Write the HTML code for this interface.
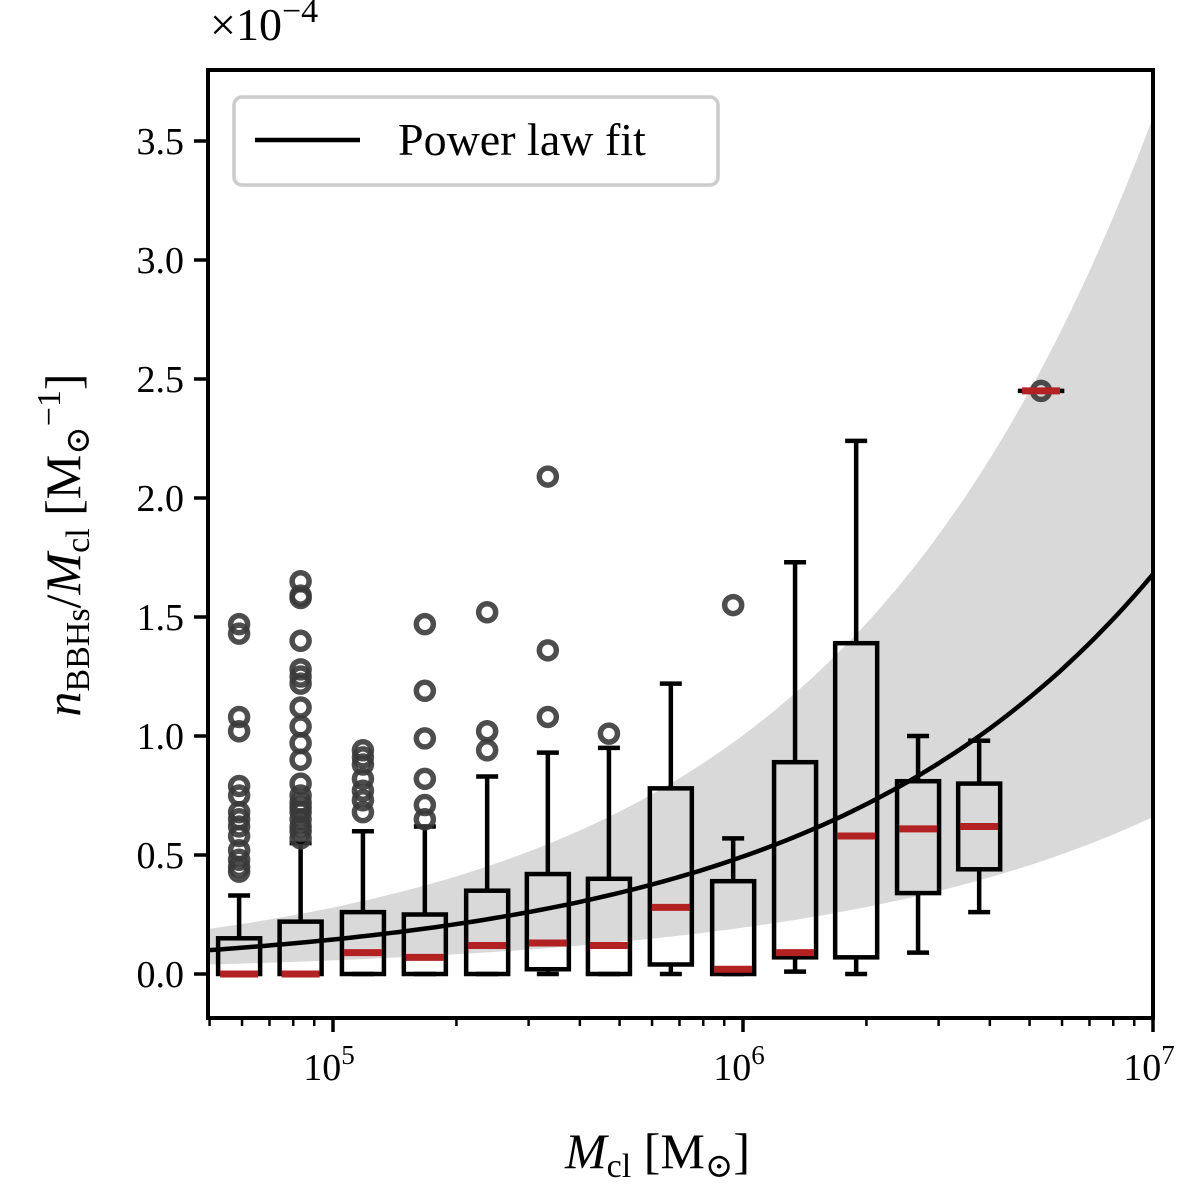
<!DOCTYPE html>
<html><head><meta charset="utf-8"><style>
html,body{margin:0;padding:0;background:#fff;}
svg text{font-family:"Liberation Serif","DejaVu Serif",serif;fill:#000;}
</style></head><body>
<svg id="chart" width="1200" height="1180" viewBox="0 0 1200 1180" xmlns="http://www.w3.org/2000/svg">
<g id="band"></g>
<g id="ticks"></g>
<g id="boxes"></g>
<g id="fit"></g>
<rect x="208" y="70" width="945" height="948" fill="none" stroke="#000" stroke-width="4"/>
<g>
<rect x="234" y="97" width="484" height="88" rx="8" fill="#fff" fill-opacity="0.8" stroke="#ccc" stroke-width="3.5"/>
<line x1="255" y1="140" x2="360" y2="140" stroke="#000" stroke-width="4.5"/>
<text x="398" y="155" font-size="46">Power law fit</text>
</g>
<text x="210" y="40" font-size="46">×10<tspan dy="-18" font-size="34">−4</tspan></text>
<text x="565" y="1168" font-size="50"><tspan font-style="italic">M</tspan><tspan font-size="34" dy="9">cl</tspan><tspan dy="-9"> [M</tspan><tspan font-size="34" dy="9">⊙</tspan><tspan dy="-9">]</tspan></text>
<text transform="translate(80,545) rotate(-90)" text-anchor="middle" font-size="50"><tspan font-style="italic">n</tspan><tspan font-size="34" dy="9">BBHs</tspan><tspan dy="-9">/</tspan><tspan font-style="italic">M</tspan><tspan font-size="34" dy="9">cl</tspan><tspan dy="-9"> [M</tspan><tspan font-size="34" dy="9">⊙</tspan><tspan font-size="34" dy="-29">−1</tspan><tspan dy="20">]</tspan></text>
</svg>
<script>
const boxCenters=[4.771,4.921,5.073,5.224,5.376,5.524,5.673,5.824,5.976,6.127,6.276,6.427,6.576,6.727];
const whiskLow=[0,0,0,0,0,0,0,0,0,0.01,0,0.09,0.26,2.45];
const q1=[0,0,0,0,0,0.02,0,0.04,0,0.07,0.07,0.34,0.44,2.45];
const medians=[0,0,0.09,0.07,0.12,0.13,0.12,0.28,0.02,0.09,0.58,0.61,0.62,2.45];
const q3=[0.15,0.22,0.26,0.25,0.35,0.42,0.40,0.78,0.39,0.89,1.39,0.81,0.80,2.45];
const whiskHigh=[0.33,0.55,0.60,0.62,0.83,0.93,0.95,1.22,0.57,1.73,2.24,1.00,0.98,2.45];
const outliers=[
[0.43,0.45,0.48,0.52,0.58,0.62,0.65,0.68,0.75,0.79,1.02,1.08,1.43,1.47],
[0.57,0.6,0.62,0.65,0.68,0.7,0.72,0.75,0.8,0.9,0.97,1.04,1.12,1.22,1.25,1.28,1.4,1.58,1.59,1.65],
[0.68,0.73,0.77,0.82,0.88,0.91,0.94],
[0.65,0.71,0.82,0.99,1.19,1.47],
[0.94,1.02,1.52],
[1.08,1.36,2.09],
[1.01],[],[1.55],[],[],[],[],[2.45]];
const fitAmp=1.68, fitExp=0.532, bandHiAmp=3.6, bandHiExp=0.555, bandLoAmp=0.66, bandLoExp=0.53;
const yTicks=[0,0.5,1.0,1.5,2.0,2.5,3.0,3.5];
const xMajor=[5,6,7];

const NS="http://www.w3.org/2000/svg";
const X=l=>333+(l-5)*410;
const Y=v=>974-v*238;
function mk(parent,tag,attrs){const e=document.createElementNS(NS,tag);for(const k in attrs)e.setAttribute(k,attrs[k]);document.getElementById(parent).appendChild(e);return e;}
const lmin=Math.log10(5e4),lmax=7;
let up=[],lo=[];
for(let i=0;i<=100;i++){const l=lmin+(lmax-lmin)*i/100;up.push(X(l).toFixed(1)+","+Y(bandHiAmp*Math.pow(10,bandHiExp*(l-7))).toFixed(1));lo.push(X(l).toFixed(1)+","+Y(bandLoAmp*Math.pow(10,bandLoExp*(l-7))).toFixed(1));}
let b=mk("band","polygon",{points:up.concat(lo.reverse()).join(" "),fill:"#d9d9d9"});


let pts=[];
for(let i=0;i<=100;i++){const l=lmin+(lmax-lmin)*i/100;pts.push(X(l).toFixed(1)+","+Y(fitAmp*Math.pow(10,fitExp*(l-7))).toFixed(1));}
let f=mk("fit","polyline",{points:pts.join(" "),fill:"none",stroke:"#000","stroke-width":4.5});


yTicks.forEach(v=>{
 let t=mk("ticks","line",{x1:194,x2:208,y1:Y(v),y2:Y(v),stroke:"#000","stroke-width":3.5});
 
 
 let tx=mk("ticks","text",{x:184,y:Y(v)+13,"text-anchor":"end","font-size":38});
 tx.textContent=v.toFixed(1);
 
 
});
xMajor.forEach(p=>{
 let t=mk("ticks","line",{x1:X(p),x2:X(p),y1:1018,y2:1032,stroke:"#000","stroke-width":3.5});
 
 
 let tx=mk("ticks","text",{x:X(p)-4,y:1080,"text-anchor":"middle","font-size":38});
 tx.innerHTML='10<tspan dy="-16" font-size="27">'+p+'</tspan>';
 
 
});
for(let d=4;d<=6;d++)for(let m=2;m<=9;m++){const l=d+Math.log10(m);if(l<lmin-1e-6||l>7)continue;
 let t=mk("ticks","line",{x1:X(l),x2:X(l),y1:1018,y2:1026,stroke:"#000","stroke-width":2.5});
 
 }
const hw=21,cap=11;
boxCenters.forEach((c,i)=>{
 const cx=X(c);
 const g=mk("boxes","g",{});
 
 
 const add=(tag,a)=>{const e=document.createElementNS(NS,tag);for(const k in a)e.setAttribute(k,a[k]);g.appendChild(e);return e;};
 const s={stroke:"#000","stroke-width":4.5,fill:"none"};
 add("line",{...s,x1:cx,x2:cx,y1:Y(q3[i]),y2:Y(whiskHigh[i])});
 add("line",{...s,x1:cx,x2:cx,y1:Y(q1[i]),y2:Y(whiskLow[i])});
 add("line",{...s,x1:cx-cap,x2:cx+cap,y1:Y(whiskHigh[i]),y2:Y(whiskHigh[i])});
 add("line",{...s,x1:cx-cap,x2:cx+cap,y1:Y(whiskLow[i]),y2:Y(whiskLow[i])});
 add("rect",{...s,x:cx-hw,y:Y(q3[i]),width:2*hw,height:Math.max(0.01,Y(q1[i])-Y(q3[i]))});
 outliers[i].forEach(v=>{add("circle",{cx:cx,cy:Y(v),r:8.5,fill:"none",stroke:"#3a3a3a","stroke-opacity":0.9,"stroke-width":5.5});});
 add("line",{x1:cx-hw+2,x2:cx+hw-2,y1:Y(medians[i]),y2:Y(medians[i]),stroke:"#b22222","stroke-width":7});
});
</script>
</body></html>
